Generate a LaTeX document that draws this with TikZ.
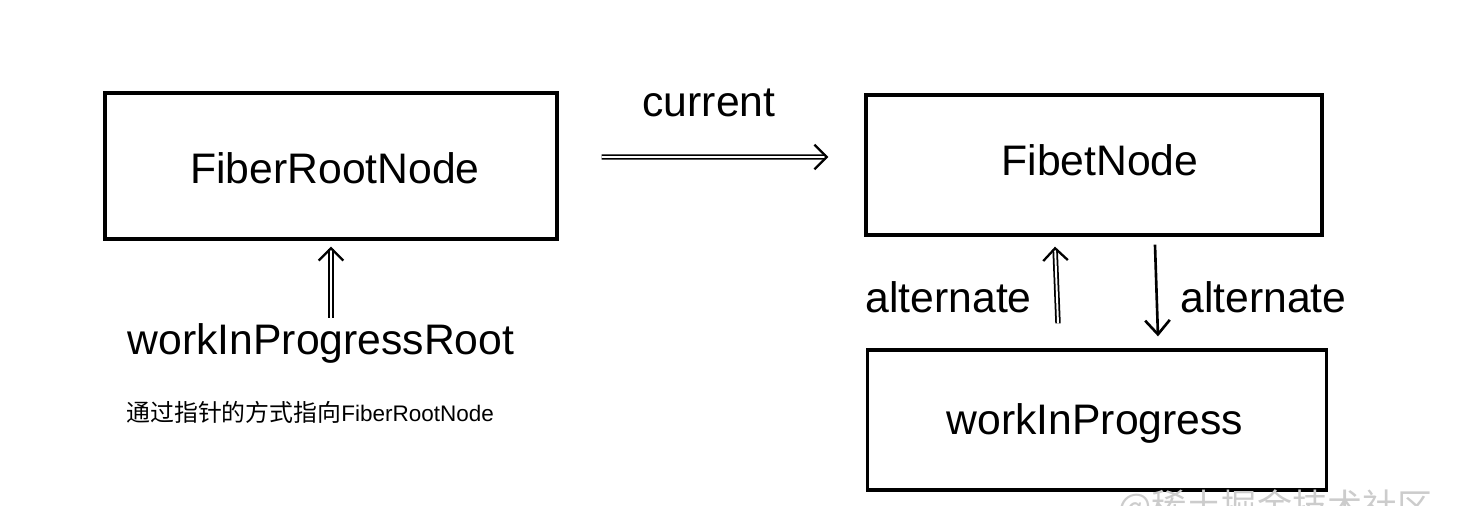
\documentclass[tikz,border=0pt]{standalone}
\usepackage{fontspec}
\setmainfont{Liberation Sans}
\newfontfamily\cjk{Noto Sans CJK SC}
\usetikzlibrary{arrows.meta}

\tikzset{
  x=0.02cm, y=-0.02cm,
  box/.style={draw, line width=1.9pt, inner sep=0pt},
  lbl/.style={inner sep=0pt, font=\fontsize{24.3pt}{29pt}\selectfont},
  dblarrow/.style={double, double distance=1.1pt, line width=1pt,
    -{Straight Barb[length=7pt, width=14pt, line width=1.3pt]}},
  onearrow/.style={line width=1.5pt,
    -{Straight Barb[length=8pt, width=14pt, line width=1.5pt]}}
}

\begin{document}
\begin{tikzpicture}

\useasboundingbox (0,0) rectangle (1464,506);

% boxes
\node[box, minimum width=9.04cm, minimum height=2.92cm] (root) at (331,166) {};
\node[box, minimum width=9.12cm, minimum height=2.80cm] (fiber) at (1094,165) {};
\node[box, minimum width=9.18cm, minimum height=2.80cm] (wip) at (1097,420) {};

\node[lbl] (rootText) at (335,168) {FiberRootNode};
\node[lbl] (fiberText) at (1100,160) {FibetNode};
\node[lbl] (wipText) at (1095,423) {workInProgress};

% labels
\node[lbl] (current) at (709,103) {current};
\node[lbl] (wipRoot) at (321,343) {workInProgressRoot};
\node[lbl, anchor=east] (altLeft) at (1032,297) {alternate};
\node[lbl, anchor=west] (altRight) at (1180,297) {alternate};
\node[anchor=west, inner sep=0pt] (note) at (126,412)
  {\fontsize{13.6pt}{16pt}\selectfont\cjk 通过指针的方式指向\fontsize{12.8pt}{16pt}\selectfont\rmfamily FiberRootNode};

% arrows
\draw[dblarrow] ([xshift=0.86cm, yshift=0.18cm]root.east) -- ([xshift=-0.72cm, yshift=0.16cm]fiber.west);
\draw[dblarrow] ([yshift=0.1cm]wipRoot.north -| root.south) -- ([yshift=-0.12cm]root.south);
\draw[dblarrow] ([xshift=-0.78cm, yshift=0.5cm]wip.north) -- ([xshift=-0.78cm, yshift=-0.2cm]fiber.south);
\draw[onearrow] ([xshift=1.22cm, yshift=-0.16cm]fiber.south) -- ([xshift=1.22cm, yshift=0.24cm]wip.north);

% watermark
\node[anchor=west, inner sep=0pt, text=black!20] (mark) at (1118,508)
  {\fontsize{20pt}{24pt}\selectfont\cjk @稀土掘金技术社区};

\end{tikzpicture}
\end{document}
